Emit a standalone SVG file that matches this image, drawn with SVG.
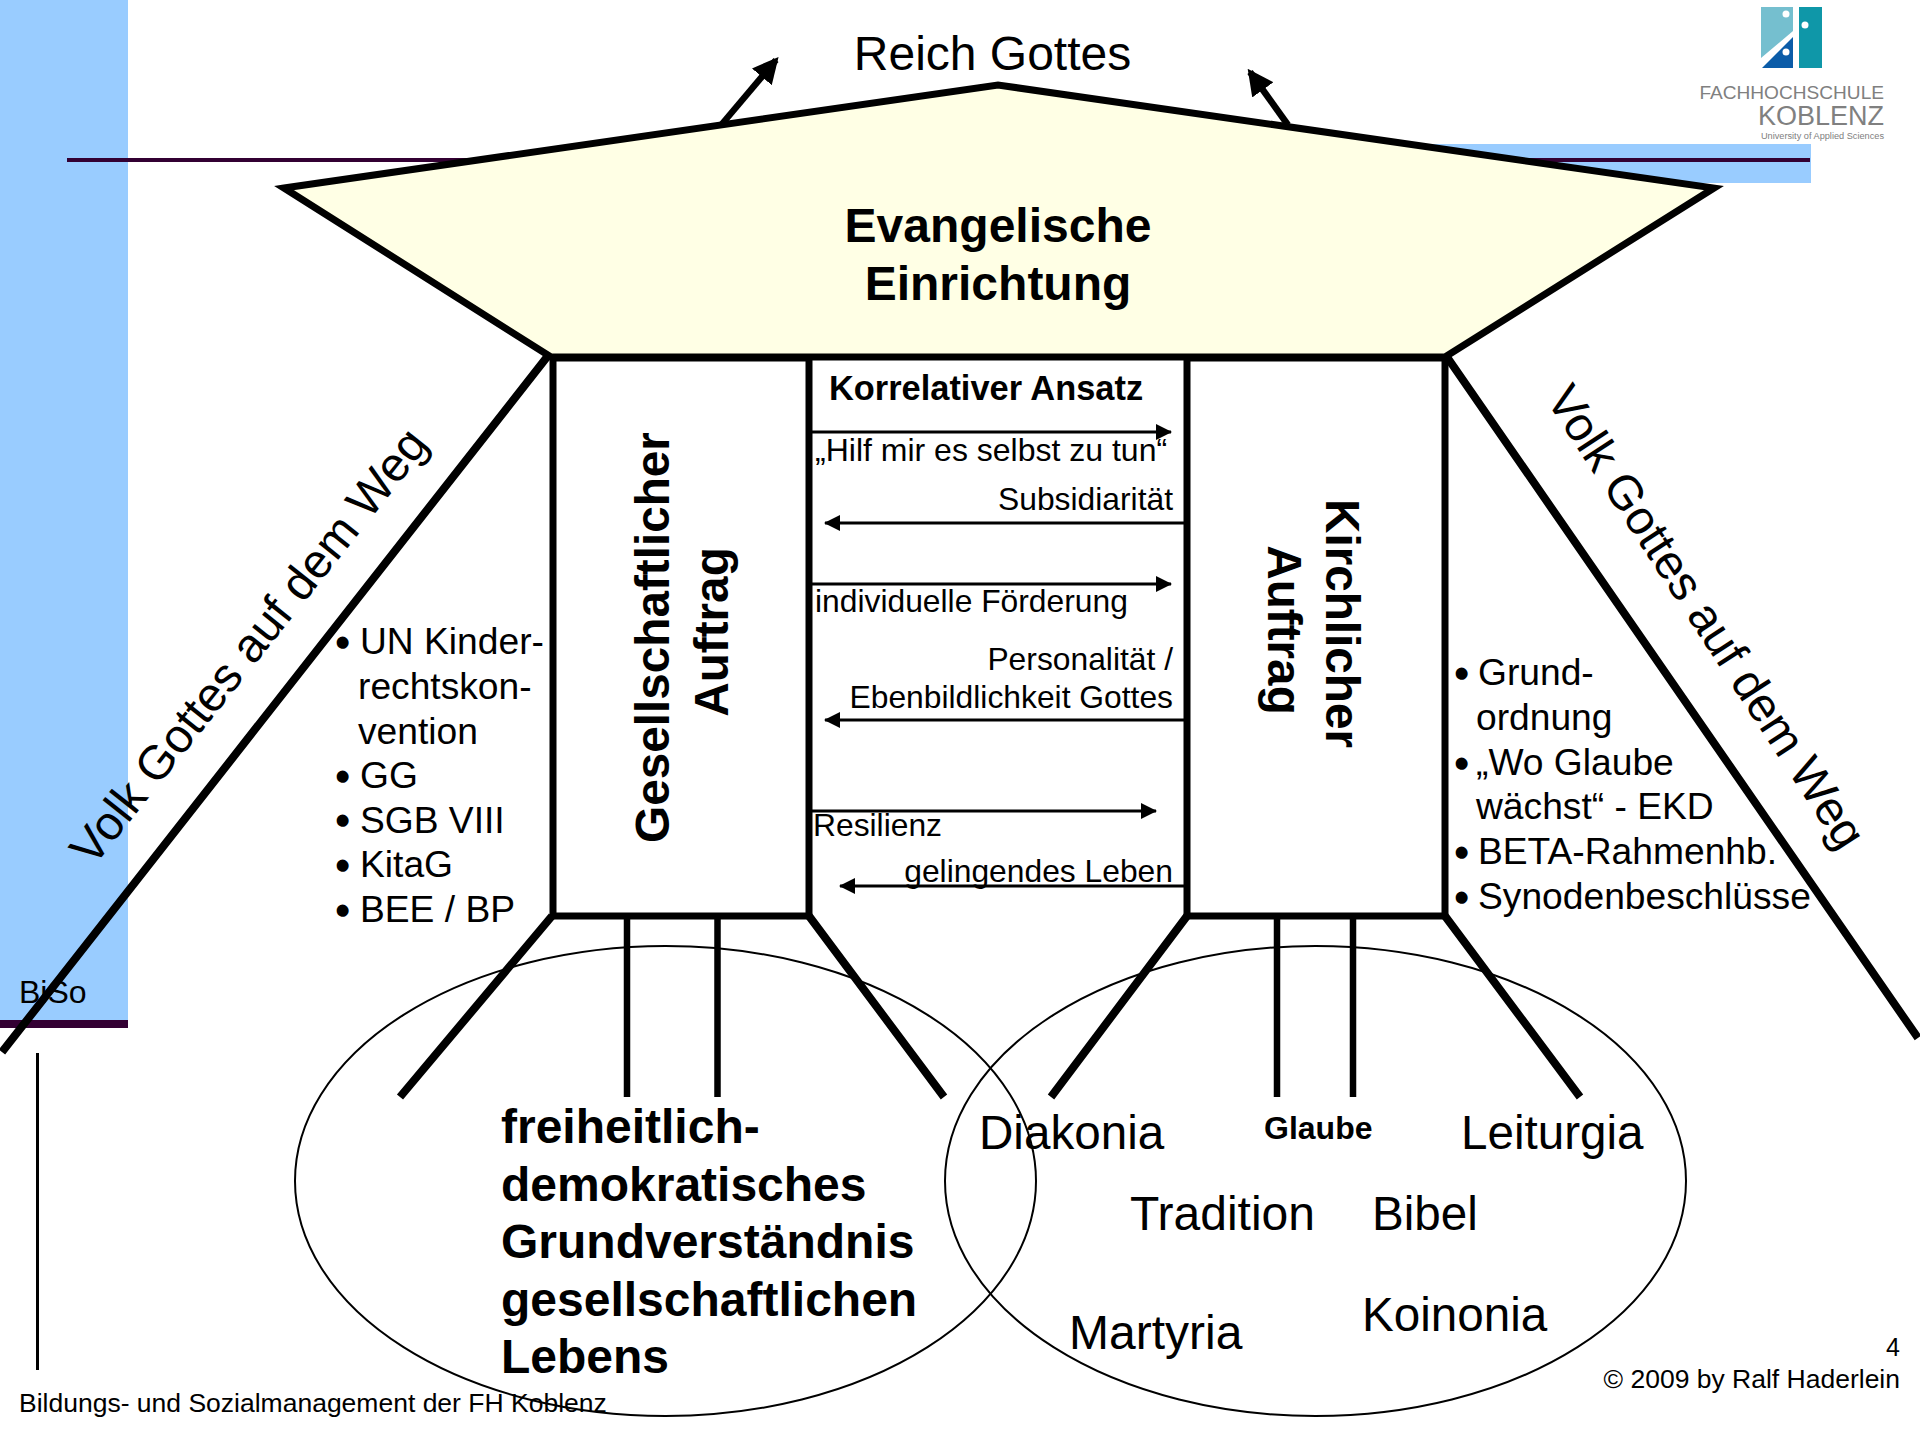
<svg xmlns="http://www.w3.org/2000/svg" width="1920" height="1440" viewBox="0 0 1920 1440">
<style>
text{font-family:"Liberation Sans",Arial,sans-serif;fill:#000}
.b{font-weight:bold}
.m{text-anchor:middle}
.e{text-anchor:end}
.t{stroke:#000;stroke-width:8;fill:none}
.s{stroke:#000;stroke-width:6.500;fill:none}
.a{stroke:#000;stroke-width:3;fill:none}
.big{font-size:48px}
.arr{font-size:31.800px}
.vol{font-size:47.800px}
.rk{font-size:48px}
.logo{fill:#808080}
.li{font-size:37.200px}
.bu{font-size:38px;stroke:#000;stroke-width:1.600px}
.h1{font-size:47.600px}
.h2{font-size:48px}
</style>
<defs>
<marker id="ah" markerUnits="userSpaceOnUse" markerWidth="16" markerHeight="16" refX="15" refY="8" orient="auto"><path d="M0 0L16 8L0 16Z" fill="#000"/></marker>
<marker id="ahb" markerUnits="userSpaceOnUse" markerWidth="26" markerHeight="26" refX="22" refY="13" orient="auto"><path d="M0 0L26 13L0 26Z" fill="#000"/></marker>
</defs>
<g id="background">
<rect x="0" y="0" width="128" height="1020" fill="#99ccff"/>
<rect x="0" y="1020" width="128" height="8" fill="#330033"/>
<rect x="1400" y="144" width="411" height="39" fill="#99ccff"/>
<rect x="67" y="158" width="1743" height="4" fill="#330033"/>
<rect x="36" y="1053" width="3" height="317" fill="#000"/>
<text x="19" y="1003" font-size="32">BiSo</text>
<text x="19" y="1412" font-size="26.500">Bildungs- und Sozialmanagement der FH Koblenz</text>
<text x="1900" y="1356" font-size="25" class="e">4</text>
<text x="1900" y="1388" font-size="26.500" class="e">© 2009 by Ralf Haderlein</text>
</g>
<g id="logo">
<path d="M1761 7H1793V31L1761 58Z" fill="#75bfcf"/>
<path d="M1762 68L1793 37V68Z" fill="#0b5ca8"/>
<rect x="1799" y="7" width="23" height="61" fill="#0f97a8"/>
<circle cx="1786" cy="14" r="3.500" fill="#fff"/><circle cx="1805" cy="25" r="3.500" fill="#fff"/><circle cx="1786" cy="52" r="3.500" fill="#fff"/>
<text x="1884" y="99" font-size="19.100" class="e logo">FACHHOCHSCHULE</text>
<text x="1884" y="125" font-size="27" class="e logo">KOBLENZ</text>
<text x="1884" y="139" font-size="9.200" class="e logo">University of Applied Sciences</text>
</g>
<g id="connectors">
<ellipse cx="665.500" cy="1181" rx="370.500" ry="235" class="a" style="stroke-width:2"/>
<ellipse cx="1315.500" cy="1181" rx="370.500" ry="235" class="a" style="stroke-width:2"/>
<path class="t" d="M547 357L2 1052M1447 357L1918 1038M552 916L400 1097M809 916L944 1097M1187 916L1051 1097M1445 916L1580 1097"/>
<path class="s" d="M627 916V1097M717.500 916V1097M1277 916V1097M1353 916V1097"/>
<path class="s" d="M722 124L776 60" marker-end="url(#ahb)"/>
<path class="s" d="M1288 125L1250 72" marker-end="url(#ahb)"/>
</g>
<g id="einrichtung">
<path d="M284 188L998 85L1714 188L1445 357H551Z" fill="#ffffe5" stroke="#000" stroke-width="7"/>
<text x="998" y="242" class="b m big">Evangelische</text>
<text x="998" y="300" class="b m big">Einrichtung</text>
</g>
<g id="gesellschaft">
<rect x="553" y="358" width="256" height="558" fill="#fff" stroke="#000" stroke-width="7"/>
<text transform="translate(669 637.500) rotate(-90)" class="b m" font-size="47.700">Gesellschaftlicher</text>
<text transform="translate(727.500 632) rotate(-90)" class="b m" font-size="47.700">Auftrag</text>
</g>
<g id="kirche">
<rect x="1187" y="358" width="258" height="558" fill="#fff" stroke="#000" stroke-width="7"/>
<text transform="translate(1326 623.500) rotate(90)" class="b m" font-size="47.700">Kirchlicher</text>
<text transform="translate(1268 630) rotate(90)" class="b m" font-size="47.700">Auftrag</text>
</g>
<g id="mitte">
<text x="829" y="400" font-size="34.400" class="b">Korrelativer Ansatz</text>
<text x="815" y="461" font-size="32">„Hilf mir es selbst zu tun“</text>
<text x="1173" y="510" class="arr e">Subsidiarität</text>
<text x="815" y="612" class="arr">individuelle Förderung</text>
<text x="1173" y="670" class="arr e">Personalität /</text>
<text x="1173" y="708" class="arr e">Ebenbildlichkeit Gottes</text>
<text x="813" y="836" class="arr">Resilienz</text>
<text x="1173" y="882" class="arr e">gelingendes Leben</text>
<path class="a" d="M811 432H1171" marker-end="url(#ah)"/>
<path class="a" d="M1184 523H825" marker-end="url(#ah)"/>
<path class="a" d="M811 584H1171" marker-end="url(#ah)"/>
<path class="a" d="M1184 720H825" marker-end="url(#ah)"/>
<path class="a" d="M811 811H1156" marker-end="url(#ah)"/>
<path class="a" d="M1184 886H840" marker-end="url(#ah)"/>
</g>
<g id="reich"><text x="992.500" y="70" class="m rk">Reich Gottes</text></g>
<g id="volk-links"><text transform="translate(93 868) rotate(-51.500)" class="vol">Volk Gottes auf dem Weg</text></g>
<g id="volk-rechts"><text transform="translate(1545 399) rotate(56.900)" class="vol">Volk Gottes auf dem Weg</text></g>
<g id="liste-links">
<text x="336" y="655.500" class="bu">•</text><text x="360" y="654" class="li">UN Kinder-</text>
<text x="358" y="699" class="li">rechtskon-</text>
<text x="358" y="744" class="li">vention</text>
<text x="336" y="789.500" class="bu">•</text><text x="360" y="788" class="li">GG</text>
<text x="336" y="834" class="bu">•</text><text x="360" y="832.500" class="li">SGB VIII</text>
<text x="336" y="878.500" class="bu">•</text><text x="360" y="877" class="li">KitaG</text>
<text x="336" y="923.500" class="bu">•</text><text x="360" y="922" class="li">BEE / BP</text>
</g>
<g id="liste-rechts">
<text x="1455" y="686.500" class="bu">•</text><text x="1478" y="685" class="li">Grund-</text>
<text x="1476" y="730" class="li">ordnung</text>
<text x="1455" y="776.500" class="bu">•</text><text x="1476" y="775" class="li">„Wo Glaube</text>
<text x="1476" y="819" class="li">wächst“ - EKD</text>
<text x="1455" y="865.500" class="bu">•</text><text x="1478" y="864" class="li">BETA-Rahmenhb.</text>
<text x="1455" y="910.500" class="bu">•</text><text x="1478" y="909" class="li">Synodenbeschlüsse</text>
</g>
<g id="grundverstaendnis">
<text x="501" y="1143" class="b h2">freiheitlich-</text>
<text x="501" y="1201" class="b h2">demokratisches</text>
<text x="501" y="1258" class="b h2">Grundverständnis</text>
<text x="501" y="1316" class="b h2">gesellschaftlichen</text>
<text x="501" y="1373" class="b h2">Lebens</text>
</g>
<g id="kirchlich">
<text x="979" y="1149" class="h1">Diakonia</text>
<text x="1264" y="1139" font-size="32" class="b">Glaube</text>
<text x="1461" y="1149" class="h1">Leiturgia</text>
<text x="1130" y="1230" class="h2">Tradition</text>
<text x="1372" y="1230" class="h1">Bibel</text>
<text x="1069" y="1349" class="h2">Martyria</text>
<text x="1362" y="1331" class="h1">Koinonia</text>
</g>
</svg>
